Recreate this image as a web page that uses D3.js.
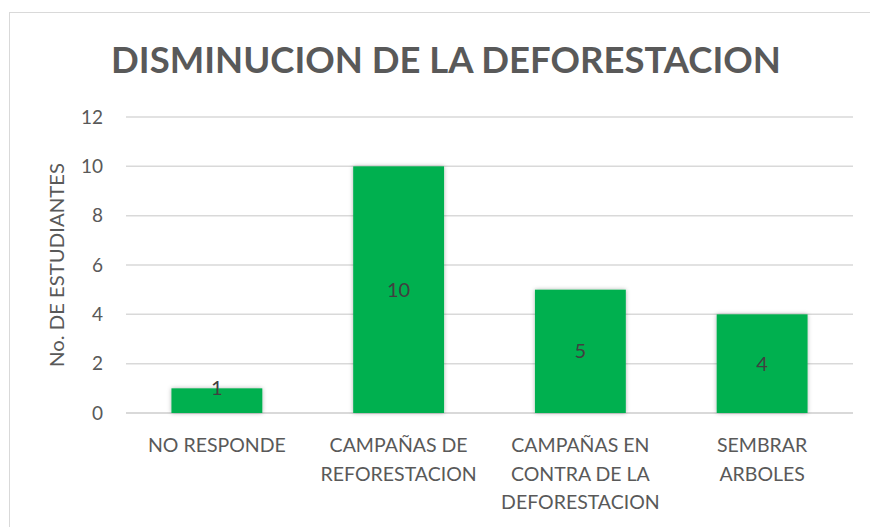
<!DOCTYPE html>
<html>
<head>
<meta charset="utf-8">
<title>Disminucion de la deforestacion</title>
<script src="https://d3js.org/d3.v7.min.js"></script>
<style>
  body { margin: 0; background: #fff; }
  svg text { font-family: Lato, "Open Sans", sans-serif; }
</style>
</head>
<body>
<script>
// ---- data ----
var categories = [
  ["NO RESPONDE"],
  ["CAMPAÑAS DE", "REFORESTACION"],
  ["CAMPAÑAS EN", "CONTRA DE LA", "DEFORESTACION"],
  ["SEMBRAR", "ARBOLES"]
];
var values = [1, 10, 5, 4];
var yTicks = [0, 2, 4, 6, 8, 10, 12];
var title = "DISMINUCION DE LA DEFORESTACION";
var yTitle = "No. DE ESTUDIANTES";

var W = 870, H = 527;
var margin = {top: 117, right: 17, bottom: 114, left: 126};
var width = W - margin.left - margin.right;
var height = H - margin.top - margin.bottom;

var svg = d3.select("body").append("svg")
  .attr("width", W)
  .attr("height", H);

// chart frame
svg.append("rect")
  .attr("x", 9.5).attr("y", 12.5)
  .attr("width", W + 10).attr("height", H + 10)
  .attr("fill", "#fff")
  .attr("stroke", "#d9d9d9");

var defs = svg.append("defs");
var f = defs.append("filter").attr("id", "shadow")
  .attr("x", "-20%").attr("y", "-20%").attr("width", "140%").attr("height", "140%");
f.append("feDropShadow").attr("dx", 0).attr("dy", 0).attr("stdDeviation", 2)
  .attr("flood-color", "#000").attr("flood-opacity", 0.3);

var g = svg.append("g").attr("transform", "translate(" + margin.left + "," + margin.top + ")");

var x = d3.scaleBand().domain(d3.range(categories.length)).range([0, width]).paddingInner(0.5).paddingOuter(0.25);
var y = d3.scaleLinear().domain([0, 12]).range([height, 0]);

// gridlines
g.append("g").selectAll("line")
  .data(yTicks)
  .enter().append("line")
    .attr("x1", 0).attr("x2", width)
    .attr("y1", function(d) { return y(d); })
    .attr("y2", function(d) { return y(d); })
    .attr("stroke", "#d9d9d9")
    .attr("stroke-width", function(d) { return d === 0 ? 2 : 1.5; });

// y axis labels
var yAxis = g.append("g").call(d3.axisLeft(y).tickValues(yTicks).tickSize(0).tickPadding(23));
yAxis.select(".domain").remove();
yAxis.selectAll("text")
  .attr("font-family", "Lato, 'Open Sans', sans-serif")
  .attr("font-size", 19)
  .attr("fill", "#595959");

// bars
g.append("g").selectAll("rect")
  .data(values)
  .enter().append("rect")
    .attr("x", function(d, i) { return x(i); })
    .attr("y", function(d) { return y(d); })
    .attr("width", x.bandwidth())
    .attr("height", function(d) { return height - y(d); })
    .attr("fill", "#00b050")
    .attr("filter", "url(#shadow)");

// data labels (centred; short bars get the label on their top edge)
g.append("g").selectAll("text")
  .data(values)
  .enter().append("text")
    .attr("x", function(d, i) { return x(i) + x.bandwidth() / 2; })
    .attr("y", function(d) {
      var h = height - y(d);
      return h < 30 ? y(d) : (y(d) + height) / 2;
    })
    .attr("dy", "0.35em")
    .attr("text-anchor", "middle")
    .attr("font-size", 20)
    .attr("fill", "#404040")
    .text(function(d) { return d; });

// category labels
var cat = g.append("g").selectAll("text")
  .data(categories)
  .enter().append("text")
    .attr("text-anchor", "middle")
    .attr("font-size", 19.5)
    .attr("fill", "#595959")
    .attr("transform", function(d, i) { return "translate(" + (x(i) + x.bandwidth() / 2) + "," + (height + 39) + ")"; });
cat.selectAll("tspan")
  .data(function(d) { return d; })
  .enter().append("tspan")
    .attr("x", 0)
    .attr("y", function(d, i) { return i * 28.5; })
    .text(function(d) { return d; });

// axis title
svg.append("text")
  .attr("transform", "translate(64," + (margin.top + height / 2) + ") rotate(-90)")
  .attr("text-anchor", "middle")
  .attr("font-size", 19)
  .attr("textLength", 204)
  .attr("lengthAdjust", "spacingAndGlyphs")
  .attr("fill", "#595959")
  .text(yTitle);

// chart title
svg.append("text")
  .attr("x", 446)
  .attr("y", 73)
  .attr("text-anchor", "middle")
  .attr("font-size", 36.5)
  .attr("font-weight", "bold")
  .attr("fill", "#595959")
  .text(title);
</script>
</body>
</html>
